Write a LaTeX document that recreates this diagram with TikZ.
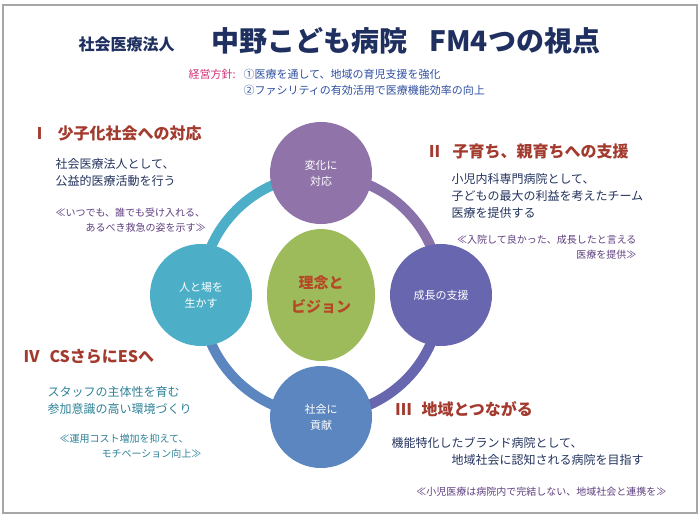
\documentclass[tikz,border=0pt]{standalone}
\usepackage{fontspec}
\setmainfont{Noto Sans CJK JP}
\usetikzlibrary{shapes.geometric}
\definecolor{titleblue}{HTML}{1F3060}
\definecolor{headred}{HTML}{A33A2E}
\definecolor{bodyblue}{HTML}{24335E}
\definecolor{quotepurple}{HTML}{5E3E7E}
\definecolor{teal}{HTML}{2D8197}
\definecolor{cTop}{HTML}{8F73A9}
\definecolor{cRight}{HTML}{6766AF}
\definecolor{cBottom}{HTML}{5B86BF}
\definecolor{cLeft}{HTML}{4DAFC7}
\definecolor{cCenter}{HTML}{9DBB5B}
\definecolor{pink}{HTML}{D0307A}
\definecolor{policy}{HTML}{2E4FA0}

\begin{document}
\begin{tikzpicture}[x=1pt,y=-1pt,
  ball/.style={circle, minimum size=102pt, inner sep=0pt, text=white, align=center, font=\fontsize{11}{16}\selectfont},
  head/.style={anchor=west, text=headred, font=\fontsize{16}{18}\selectfont\bfseries},
  body/.style={anchor=west, align=left, text=bodyblue, font=\fontsize{12}{17}\selectfont},
  quote/.style={align=left, text=quotepurple, font=\fontsize{10}{15}\selectfont}]
\useasboundingbox (0,0) rectangle (700,518);
\draw[gray!70, line width=1.5pt] (3,5) rectangle (697,513);

% title and policy
\node[anchor=base west, text=titleblue, font=\fontsize{16}{18}\selectfont\bfseries] (org) at (75,51) {社会医療法人};
\node[anchor=base west, text=titleblue, font=\fontsize{28}{30}\selectfont\bfseries] (title) at (208,52) {中野こども病院\hspace{22pt}FM4つの視点};
\node[anchor=base west, text=pink, font=\fontsize{11}{14}\selectfont] (plabel) at (185,79) {経営方針:};
\node[anchor=base west, text=policy, font=\fontsize{11}{14}\selectfont] (p1) at (240,79) {①医療を通して、地域の育児支援を強化};
\node[anchor=base west, text=policy, font=\fontsize{11}{14}\selectfont] (p2) at (240,95) {②ファシリティの有効活用で医療機能効率の向上};

% ring
\coordinate (hub) at (321,295);
\draw[cLeft, line width=10pt] (hub) ++(180:120) arc[start angle=180, end angle=270, radius=120];
\draw[cTop!85!cRight, line width=10pt] (hub) ++(270:120) arc[start angle=270, end angle=360, radius=120];
\draw[cRight, line width=10pt] (hub) ++(0:120) arc[start angle=0, end angle=90, radius=120];
\draw[cBottom, line width=10pt] (hub) ++(90:120) arc[start angle=90, end angle=180, radius=120];

\node[ball, fill=cTop] (change) at (321,173) {変化に\\対応};
\node[ball, fill=cRight] (growth) at (441,295) {成長の支援};
\node[ball, fill=cBottom] (society) at (321,417) {社会に\\貢献};
\node[ball, fill=cLeft] (people) at (201,295) {人と場を\\生かす};
\node[ellipse, minimum width=108pt, minimum height=132pt, inner sep=0pt, fill=cCenter, text=headred!80!orange, align=center, font=\fontsize{15}{24}\selectfont\bfseries] (vision) at (321,295) {理念と\\ビジョン};

% I
\node[head] (h1) at (28,133) {Ⅰ\hspace{10pt}少子化社会への対応};
\node[body] (b1) at (52,172) {社会医療法人として、\\公益的医療活動を行う};
\node[quote, anchor=west] (q1) at (52,220) {≪いつでも、誰でも受け入れる、\\\hspace{30pt}あるべき救急の姿を示す≫};
% II
\node[head] (h2) at (423,151) {Ⅱ\hspace{10pt}子育ち、親育ちへの支援};
\node[body] (b2) at (448,196) {小児内科専門病院として、\\子どもの最大の利益を考えたチーム\\医療を提供する};
\node[quote, anchor=east, align=right] (q2) at (640,247) {≪入院して良かった、成長したと言える\\医療を提供≫};
% III
\node[head] (h3) at (392,409) {Ⅲ\hspace{10pt}地域とつながる};
\node[body] (b3) at (388,451) {機能特化したブランド病院として、\\\hspace{60pt}地域社会に認知される病院を目指す};
\node[quote, anchor=east] (q3) at (670,492) {≪小児医療は病院内で完結しない、地域社会と連携を≫};
% IV
\node[head] (h4) at (20,357) {Ⅳ\hspace{10pt}CSさらにESへ};
\node[body, text=teal] (b4) at (44,400) {スタッフの主体性を育む\\参加意識の高い環境づくり};
\node[quote, anchor=west, text=teal] (q4) at (56,446) {≪運用コスト増加を抑えて、\\\hspace{42pt}モチベーション向上≫};
\end{tikzpicture}
\end{document}
